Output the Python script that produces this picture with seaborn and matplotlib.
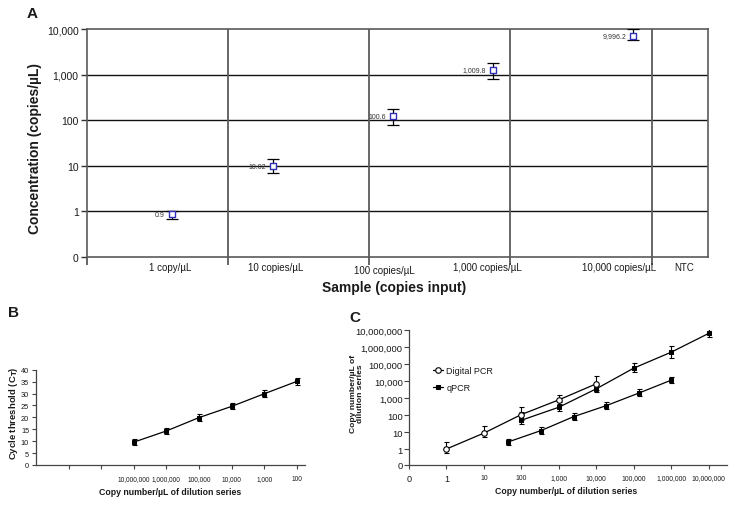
import matplotlib
matplotlib.use("Agg")
import numpy as np
import seaborn as sns
import matplotlib.pyplot as plt
from matplotlib.ticker import FixedLocator, FixedFormatter, NullLocator

# painel A - concentracao medida por amostra
a_samples = ["1 copy/µL", "10 copies/µL", "100 copies/µL", "1,000 copies/µL",
             "10,000 copies/µL", "NTC"]
a_label_x = [0.59, 1.34, 2.11, 2.84, 3.77, 4.23]
a_bounds = [0, 1, 2, 3, 4, 4.4]
a_xpos = [0.60, 1.32, 2.17, 2.88, 3.87]
a_conc = [0.86, 9.7, 122, 1290, 7160]
a_low = [0.67, 7.1, 80, 790, 5860]
a_high = [1.03, 14.0, 174, 1830, 10000]
a_text = ["0.9", "10.02", "100.6", "1,009.8", "9,996.2"]
a_yticks = [0.1, 1, 10, 100, 1000, 10000]
a_yticklabels = ["0", "1", "10", "100", "1,000", "10,000"]

# painel B - curva padrao do qPCR
b_ticks = [1, 2, 3, 4, 5, 6, 7, 8]
b_ticklabels = ["", "", "10,000,000", "1,000,000", "100,000", "10,000", "1,000", "100"]
b_xpos = [3, 4, 5, 6, 7, 8]
b_ct = [9.6, 14.3, 19.9, 24.6, 29.9, 35.1]
b_err = [1.3, 1.3, 1.3, 1.3, 1.4, 1.4]

# painel C - digital PCR x qPCR
c_ticks = [0.1, 1, 10, 100, 1e3, 1e4, 1e5, 1e6, 1e7]
c_xticklabels = ["0", "1", "10", "100", "1,000", "10,000", "100,000", "1,000,000", "10,000,000"]
c_yticks = [10 ** -0.9, 1, 10, 100, 1e3, 1e4, 1e5, 1e6, 1e7]
c_yticklabels = ["0", "1", "10", "100", "1,000", "10,000", "100,000", "1,000,000", "10,000,000"]

c_dpcr_x = [1, 10, 100, 1000, 10000]
c_dpcr_y = [1.05, 9, 110, 800, 7000]
c_dpcr_low = [0.6, 5.1, 51, 465, 3000]
c_dpcr_high = [2.6, 24.5, 324, 1500, 21000]

c_q1_x = [100, 1000, 10000, 100000, 1e6, 1e7]
c_q1_y = [51, 295, 3550, 58000, 500000, 6300000]
c_q1_low = [31, 187, 2460, 34000, 214000, 3700000]
c_q1_high = [165, 580, 5600, 110000, 1200000, 11500000]

c_q2_x = [44, 330, 2495, 18700, 141000, 1e6]
c_q2_y = [2.7, 12.5, 83, 370, 2050, 11400]
c_q2_low = [1.75, 8.1, 54, 240, 1270, 7400]
c_q2_high = [4.2, 19.3, 128, 570, 3300, 17600]

sns.set_theme(style="ticks")
plt.rcParams['font.family'] = ['Liberation Sans', 'DejaVu Sans']
plt.rcParams['text.color'] = '#1a1a1a'
plt.rcParams['axes.labelcolor'] = '#1a1a1a'
plt.rcParams['xtick.color'] = '#444444'
plt.rcParams['ytick.color'] = '#444444'
plt.rcParams['xtick.labelcolor'] = '#1a1a1a'
plt.rcParams['ytick.labelcolor'] = '#1a1a1a'

W, H = 735, 506
fig = plt.figure(figsize=(W / 100, H / 100), dpi=100)


def fpos(x, y):
    return x / W, 1 - y / H


# ---------------- A ----------------
axA = fig.add_axes([87 / W, 1 - 258 / H, 621 / W, 228 / H])
axA.set_yscale('log')
axA.set_ylim(0.1, 10000)
axA.set_xlim(a_bounds[0], a_bounds[-1])

for yv in a_yticks[1:-1]:
    axA.axhline(yv, color='#111111', lw=1.0, zorder=1)
for xv in a_bounds[1:-1]:
    axA.axvline(xv, color='#5a5a5a', lw=1.3, zorder=1)

axA.errorbar(a_xpos, a_conc,
             yerr=[np.array(a_conc) - np.array(a_low), np.array(a_high) - np.array(a_conc)],
             fmt='none', ecolor='black', elinewidth=0.9, capsize=4.5, capthick=0.9, zorder=3)
sns.scatterplot(x=a_xpos, y=a_conc, marker='s', s=18, facecolor='white',
                edgecolor='#3030b8', linewidth=1.0, ax=axA, zorder=4)
for xv, yv, t in zip(a_xpos, a_conc, a_text):
    axA.text(xv - 0.05, yv, t, ha='right', va='center', fontsize=5, color='#333333')

axA.yaxis.set_major_locator(FixedLocator(a_yticks))
axA.yaxis.set_major_formatter(FixedFormatter(a_yticklabels))
axA.yaxis.set_minor_locator(NullLocator())
axA.xaxis.set_major_locator(FixedLocator(a_bounds[:-1]))
axA.xaxis.set_major_formatter(FixedFormatter([''] * 5))
axA.tick_params(axis='y', labelsize=7.5, length=4, width=1.0, color='#333333', pad=2)
axA.tick_params(axis='x', length=5.5, width=1.3, color='#5a5a5a')
for sp in axA.spines.values():
    sp.set_color('#5a5a5a')
    sp.set_linewidth(1.2)

for xv, t in zip(a_label_x, a_samples):
    yoff = -0.057 if t.startswith("100 ") else -0.044
    axA.text(xv, yoff, t, transform=axA.get_xaxis_transform(), ha='center', va='center',
             fontsize=7)

fig.text(*fpos(394, 288), "Sample (copies input)", ha='center', va='center',
         fontsize=10, fontweight='bold')
fig.text(*fpos(35, 148), "Concentration (copies/µL)", ha='center', va='center',
         rotation=90, fontsize=10, fontweight='bold')
fig.text(*fpos(32, 14), "A", ha='center', va='center', fontsize=11, fontweight='bold')

# ---------------- B ----------------
axB = fig.add_axes([36 / W, 1 - 466 / H, 269 / W, 95.3 / H])
axB.errorbar(b_xpos, b_ct, yerr=b_err, fmt='none', ecolor='black',
             elinewidth=0.8, capsize=1.8, capthick=0.8, zorder=3)
sns.lineplot(x=b_xpos, y=b_ct, color='black', linewidth=0.9, marker='s',
             markersize=3, markeredgecolor='black', ax=axB, zorder=4)
axB.set_xlim(0, 8.25)
axB.set_ylim(0, 40)
axB.set_yticks(range(0, 41, 5))
axB.set_xticks(b_ticks)
axB.set_xticklabels(b_ticklabels)
axB.tick_params(axis='y', labelsize=5.3, length=3, width=0.8, pad=2)
axB.tick_params(axis='x', labelsize=4.7, length=3, width=0.8, pad=4)
sns.despine(ax=axB)
for sp in axB.spines.values():
    sp.set_color('#444444')
    sp.set_linewidth(0.9)
fig.text(*fpos(170, 493), "Copy number/µL of dilution series", ha='center', va='center',
         fontsize=6.3, fontweight='bold')
fig.text(*fpos(14, 413), r"Cycle threshold (C$_\mathbf{T}$)", ha='center', va='center',
         rotation=90, fontsize=6.8, fontweight='bold')
fig.text(*fpos(13, 313), "B", ha='center', va='center', fontsize=11, fontweight='bold')

# ---------------- C ----------------
axC = fig.add_axes([409 / W, 1 - 465.7 / H, 318 / W, 134.7 / H])
axC.set_xscale('log')
axC.set_yscale('log')

for xs, ys, lo, hi in [(c_dpcr_x, c_dpcr_y, c_dpcr_low, c_dpcr_high),
                       (c_q1_x, c_q1_y, c_q1_low, c_q1_high),
                       (c_q2_x, c_q2_y, c_q2_low, c_q2_high)]:
    ys_a = np.array(ys)
    axC.errorbar(xs, ys, yerr=[ys_a - np.array(lo), np.array(hi) - ys_a], fmt='none',
                 ecolor='black', elinewidth=0.8, capsize=1.8, capthick=0.8, zorder=3)

sns.lineplot(x=c_q1_x, y=c_q1_y, color='black', linewidth=0.9, marker='s', markersize=3,
             markeredgecolor='black', ax=axC, zorder=4, label='qPCR')
sns.lineplot(x=c_q2_x, y=c_q2_y, color='black', linewidth=0.9, marker='s', markersize=3,
             markeredgecolor='black', ax=axC, zorder=4)
sns.lineplot(x=c_dpcr_x, y=c_dpcr_y, color='black', linewidth=0.9, marker='o', markersize=4,
             markerfacecolor='white', markeredgecolor='black', markeredgewidth=0.8,
             ax=axC, zorder=5, label='Digital PCR')

h, l = axC.get_legend_handles_labels()
axC.legend(h[::-1], l[::-1], loc='upper left', bbox_to_anchor=(0.055, 0.78), frameon=False,
           fontsize=6.5, handlelength=1.1, handletextpad=0.4, labelspacing=0.9,
           borderpad=0.2)

axC.set_xlim(0.1, 10 ** 7.49)
axC.set_ylim(10 ** -0.9, 1e7)
axC.xaxis.set_major_locator(FixedLocator(c_ticks))
axC.xaxis.set_major_formatter(FixedFormatter(c_xticklabels))
axC.xaxis.set_minor_locator(NullLocator())
axC.yaxis.set_major_locator(FixedLocator(c_yticks))
axC.yaxis.set_major_formatter(FixedFormatter(c_yticklabels))
axC.yaxis.set_minor_locator(NullLocator())
axC.tick_params(axis='y', labelsize=6.8, length=3.5, width=0.8, pad=1)
axC.tick_params(axis='x', labelsize=4.9, length=3, width=0.8, pad=4)
for lab in axC.get_xticklabels()[:2]:
    lab.set_fontsize(6.6)
sns.despine(ax=axC)
for sp in axC.spines.values():
    sp.set_color('#444444')
    sp.set_linewidth(0.9)
fig.text(*fpos(566, 492), "Copy number/µL of dilution series", ha='center', va='center',
         fontsize=6.3, fontweight='bold')
fig.text(*fpos(357, 394), "Copy number/µL of\ndilution series", ha='center', va='center',
         rotation=90, fontsize=6.1, fontweight='bold', linespacing=1.0)
fig.text(*fpos(355, 318), "C", ha='center', va='center', fontsize=11, fontweight='bold')

fig.savefig("out.png", dpi=100)
